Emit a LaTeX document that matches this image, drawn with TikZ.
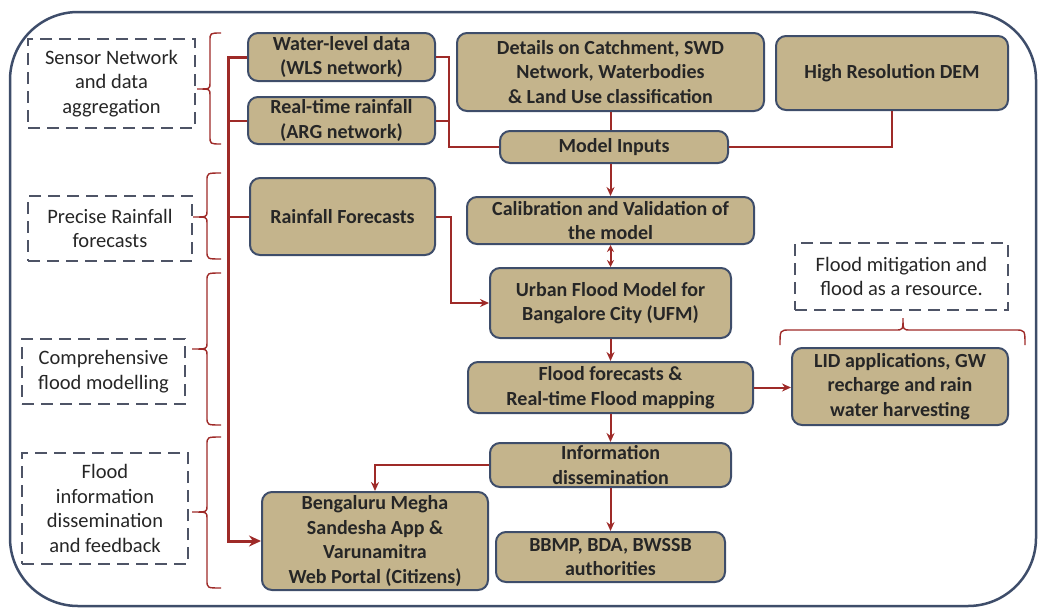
\documentclass[tikz,border=0pt]{standalone}
\usepackage{fontspec}
\setmainfont{Carlito}
\usetikzlibrary{arrows.meta}
\definecolor{tanfill}{RGB}{196,180,140}
\definecolor{boxline}{RGB}{62,77,106}
\definecolor{connc}{RGB}{158,42,40}
\definecolor{dashline}{RGB}{78,84,102}
\definecolor{txt}{RGB}{38,38,38}
% left-opening brace: #1 top y, #2 bottom y, #3 tip y, #4 spine x, #5 tip x
\newcommand{\lbracepath}[5]{%
  \draw[brc] (221,#1) .. controls (#4,#1) .. (#4,#1+8) -- (#4,#3-6)
    .. controls (#4,#3) .. (#5,#3) .. controls (#4,#3) .. (#4,#3+6)
    -- (#4,#2-8) .. controls (#4,#2) .. (221,#2);}
\begin{document}
\begin{tikzpicture}[x=1pt,y=-1pt,
  sbox/.style={draw=boxline, fill=tanfill, line width=2pt, rounded corners=10pt, inner sep=0pt, align=center, text=txt, font=\fontsize{20}{24.5}\selectfont\bfseries},
  dbox/.style={draw=dashline, line width=2.5pt, dash pattern=on 12pt off 7pt, inner sep=0pt, align=center, text=black!85, font=\fontsize{20.5}{24.5}\selectfont},
  conn/.style={draw=connc, line width=2pt},
  arr/.style={conn, -{Stealth[length=9pt,width=8pt]}},
  darr/.style={conn, {Stealth[length=7pt,width=7pt]}-{Stealth[length=7pt,width=7pt]}},
  bus/.style={draw=connc, line width=3pt},
  busarr/.style={bus, -{Stealth[length=12pt,width=11pt]}},
  brc/.style={draw=connc, line width=1.4pt},
  frame/.style={draw=boxline, line width=2.5pt, rounded corners=68pt, inner sep=0pt}
]
\useasboundingbox (0,0) rectangle (1038,608);
\node[frame, minimum width=1026pt, minimum height=594pt] (frm) at (523,309) {};

% dashed group labels
\node[dbox, minimum width=167pt, minimum height=89pt] (S1) at (111.5,83.5) {Sensor Network\\and data\\aggregation};
\node[dbox, minimum width=164pt, minimum height=65pt] (S2) at (110,228.5) {Precise Rainfall\\forecasts};
\node[dbox, minimum width=163pt, minimum height=65pt] (S3) at (103.5,371.5) {Comprehensive\\flood modelling};
\node[dbox, minimum width=166pt, minimum height=111pt] (S4) at (105,508.5) {Flood\\information\\dissemination\\and feedback};
\node[dbox, minimum width=213pt, minimum height=67pt] (S5) at (901.5,276.5) {Flood mitigation and\\flood as a resource.};

% solid boxes
\node[sbox, minimum width=187pt, minimum height=48pt] (A) at (341.5,57) {Water-level data\\(WLS network)};
\node[sbox, minimum width=187pt, minimum height=47pt] (B) at (341.5,120.5) {Real-time rainfall\\(ARG network)};
\node[sbox, minimum width=185pt, minimum height=77pt] (C) at (342.5,216.5) {Rainfall Forecasts};
\node[sbox, minimum width=307pt, minimum height=78pt] (D) at (610.5,72) {Details on Catchment, SWD\\Network, Waterbodies\\\& Land Use classification};
\node[sbox, minimum width=232pt, minimum height=74pt] (E) at (892,73) {High Resolution DEM};
\node[sbox, minimum width=228pt, minimum height=32pt] (F) at (614,147) {Model Inputs};
\node[sbox, minimum width=287pt, minimum height=47pt] (G) at (610.5,220.5) {Calibration and Validation of\\the model};
\node[sbox, minimum width=241pt, minimum height=70pt] (H) at (610.5,303) {Urban Flood Model for\\Bangalore City (UFM)};
\node[sbox, minimum width=285pt, minimum height=51pt] (I) at (610.5,387.5) {Flood forecasts \&\\Real-time Flood mapping};
\node[sbox, minimum width=216pt, minimum height=77pt] (J) at (900,386.5) {LID applications, GW\\recharge and rain\\water harvesting};
\node[sbox, minimum width=241pt, minimum height=44pt] (K) at (610.5,465) {Information\\dissemination};
\node[sbox, minimum width=229pt, minimum height=50pt] (L) at (610.5,557) {BBMP, BDA, BWSSB\\authorities};
\node[sbox, minimum width=226pt, minimum height=98pt] (M) at (375,541) {Bengaluru Megha\\Sandesha App \&\\Varunamitra\\Web Portal (Citizens)};

% braces
\lbracepath{33}{144}{89}{210}{197}
\lbracepath{173}{259}{217}{207}{193}
\lbracepath{273}{425}{349}{207}{192}
\lbracepath{437}{588}{512}{207}{192}
\draw[brc] (780,345) .. controls (780,330) .. (790,330) -- (895,330)
  .. controls (903,330) .. (903,318) .. controls (903,330) .. (911,330)
  -- (1015,330) .. controls (1025,330) .. (1025,345);

% left bus
\coordinate (bx) at (228,0);
\draw[busarr] (A.west) -- (A.west -| bx) -- (bx |- M.west) -- (M.west);
\draw[conn] (B.west) -- (B.west -| bx);
\draw[conn] (C.west) -- (C.west -| bx);

% model inputs
\draw[conn] (A.east) -- ++(13,0) |- (F.west);
\draw[conn] (B.east) -- ++(13,0);
\draw[conn] (D.south) -- (D.south |- F.north);
\draw[conn] (E.south) |- (F.east);

% main chain
\draw[arr] (G.north |- F.south) -- (G.north);
\draw[darr] (G.south) -- (H.north);
\draw[arr] (C.east) -- ++(15,0) |- (H.west);
\draw[arr] (H.south) -- (I.north);
\draw[arr] (I.east) -- (J.west |- I.east);
\draw[arr] (I.south) -- (K.north);
\draw[arr] (K.west) -| (M.north);
\draw[arr] (K.south) -- (L.north);
\end{tikzpicture}
\end{document}
